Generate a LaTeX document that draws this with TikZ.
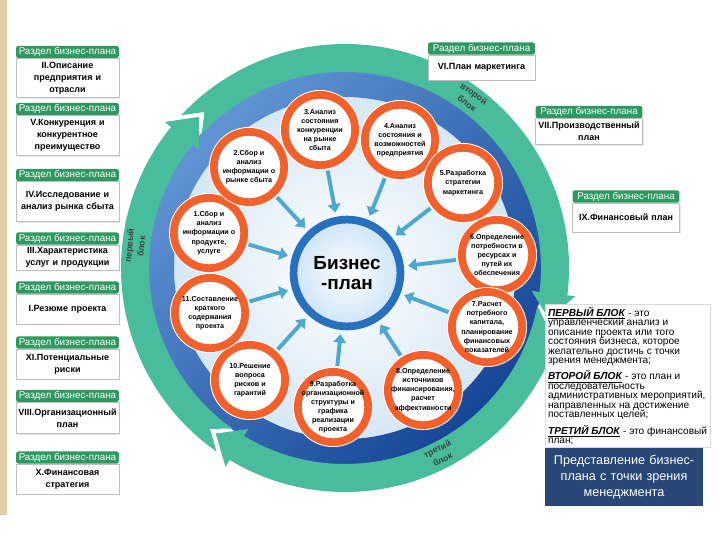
\documentclass[tikz,border=0pt]{standalone}
\usepackage{fontspec}
\setmainfont{Liberation Sans}
\usetikzlibrary{positioning,arrows.meta,shadows}

\definecolor{ringteal}{RGB}{74,188,158}
\definecolor{bandlight}{RGB}{96,148,212}
\definecolor{banddark}{RGB}{22,70,150}
\definecolor{stageorange}{RGB}{242,96,44}
\definecolor{hdrgreen}{RGB}{46,152,96}
\definecolor{inblue}{RGB}{78,168,205}
\definecolor{planblue}{RGB}{38,112,190}
\definecolor{navyband}{RGB}{40,70,118}
\definecolor{slidetan}{RGB}{224,204,166}

\tikzset{
  stage/.style={circle, draw=white, line width=0.7pt, double=stageorange, double distance=5.5pt,
    fill=white, minimum size=50pt, inner sep=0pt},
  stagetxt/.style={font=\fontsize{5.1}{6.5}\selectfont\bfseries, align=center, inner sep=0pt},
  plan/.style={circle, draw=planblue, line width=5.5pt, inner color=white,
    outer color={rgb,255:red,205;green,228;blue,246}, minimum size=76pt, align=center,
    font=\fontsize{13.5}{14.5}\selectfont\bfseries},
  hdr/.style={fill=hdrgreen, text=white, minimum width=73pt, minimum height=8.6pt, inner sep=0pt,
    rounded corners=1.5pt, font=\fontsize{7}{7}\selectfont},
  sect/.style={draw=black!25, fill=white, text width=70pt, minimum width=73pt, inner sep=1.5pt,
    align=center, font=\fontsize{6.4}{8.4}\selectfont\bfseries,
    drop shadow={opacity=0.2, shadow xshift=1pt, shadow yshift=-1pt}},
  toplan/.style={draw=inblue, line width=2.8pt, -{Triangle[length=6pt,width=9pt]},
    shorten <=4pt, shorten >=3pt},
  blocktxt/.style={font=\fontsize{6.2}{8.5}\selectfont\bfseries, align=center, text=black!75, inner sep=0pt},
  infobox/.style={draw=black!15, fill=white, minimum width=112pt,
    minimum height=100pt, inner sep=2pt, align=left,
    font={\fontsize{7.2}{6.7}\selectfont\lineskiplimit=-5pt}},
  banner/.style={fill=navyband, text=white, text width=108pt, minimum width=112pt,
    minimum height=41pt, inner sep=2pt, align=center, font=\fontsize{9}{11.3}\selectfont}
}

% teal band from angle #1 clockwise to the tip at angle #2
\newcommand{\blockarrow}[2]{%
  \fill[ringteal] (#1:196) arc[start angle=#1, end angle=#2+7, radius=196]
    -- (#2+7:188) -- (#2:210) -- (#2+7:232) -- (#2+7:224)
    arc[start angle=#2+7, end angle=#1, radius=224] -- (#1-5:210) -- cycle;}

\begin{document}
\begin{tikzpicture}[x=0.025cm, y=-0.025cm]
    \useasboundingbox (0,0) rectangle (720,540);
    \fill[slidetan] (0,0) rectangle (7,515);

    %ring
    \begin{scope}[shift={(345,268)}, y=0.025cm]
      \shade[inner color=white, outer color={rgb,255:red,214;green,231;blue,245}] (0,0) circle[radius=172];
      \shade[even odd rule, top color=bandlight, bottom color=banddark, shading angle=45]
        (0,0) circle[radius=197] (0,0) circle[radius=171];
      \blockarrow{235}{134}
      \blockarrow{137}{-14}
      \blockarrow{-11}{-128}
      \node[blocktxt, rotate=85] (blk1) at (174:211) {первый\\блок};
      \node[blocktxt, rotate=-36] (blk2) at (53.5:211) {второй\\блок};
      \node[blocktxt, rotate=26] (blk3) at (-63:209) {третий\\блок};
    \end{scope}

    %stages
    \node[stage, label={[stagetxt]center:{1.Сбор и\\анализ\\информации о\\продукте,\\услуге}}] (s1) at (209,233) {};
    \node[stage, label={[stagetxt]center:{2.Сбор и\\анализ\\информации о\\рынке сбыта}}] (s2) at (249,167) {};
    \node[stage, label={[stagetxt]center:{3.Анализ\\состояния\\конкуренции\\на рынке\\сбыта}}] (s3) at (320,130) {};
    \node[stage, label={[stagetxt]center:{4.Анализ\\состояния и\\возможностей\\предприятия}}] (s4) at (400,140) {};
    \node[stage, label={[stagetxt]center:{5.Разработка\\стратегии\\маркетинга}}] (s5) at (463,183) {};
    \node[stage, label={[stagetxt]center:{6.Определение\\потребности в\\ресурсах и\\путей их\\обеспечения}}] (s6) at (497,255) {};
    \node[stage, label={[stagetxt]center:{7.Расчет\\потребного\\капитала,\\планирование\\финансовых\\показателей}}] (s7) at (487,327) {};
    \node[stage, label={[stagetxt]center:{8.Определение\\источников\\финансирования,\\расчет\\эффективности}}] (s8) at (423,390) {};
    \node[stage, label={[stagetxt]center:{9.Разработка\\организационной\\структуры и\\графика\\реализации\\проекта}}] (s9) at (333,407) {};
    \node[stage, label={[stagetxt]center:{10.Решение\\вопроса\\рисков и\\гарантий}}] (s10) at (250,380) {};
    \node[stage, label={[stagetxt]center:{11.Составление\\краткого\\содержания\\проекта}}] (s11) at (210,313) {};

    \node[plan] (plan) at (347,273) {Бизнес\\-план};

    %arrows
    \foreach \i in {1,...,11}
      \draw[toplan] (s\i) -- (plan);

    %sections, left
    \node[hdr] (h2) at (67.5,52) {Раздел бизнес-плана};
    \node[sect, below=0pt of h2, minimum height=27.6pt] (b2) {II.Описание\\предприятия и\\отрасли};
    \node[hdr] (h5) at (67.5,109) {Раздел бизнес-плана};
    \node[sect, below=0pt of h5, minimum height=28.3pt] (b5) {V.Конкуренция и\\конкурентное\\преимущество};
    \node[hdr] (h4) at (67.5,175) {Раздел бизнес-плана};
    \node[sect, below=0pt of h4, minimum height=28.3pt] (b4) {IV.Исследование и\\анализ рынка сбыта};
    \node[hdr] (h3) at (67.5,238.5) {Раздел бизнес-плана};
    \node[sect, below=0pt of h3, minimum height=17.7pt] (b3) {III.Характеристика\\услуг и продукции};
    \node[hdr] (h1) at (67.5,287.5) {Раздел бизнес-плана};
    \node[sect, below=0pt of h1, minimum height=21.3pt] (b1) {I.Резюме проекта};
    \node[hdr] (h11) at (67.5,342.5) {Раздел бизнес-плана};
    \node[sect, below=0pt of h11, minimum height=21.3pt] (b11) {XI.Потенциальные\\риски};
    \node[hdr] (h8) at (67.5,396) {Раздел бизнес-плана};
    \node[sect, below=0pt of h8, minimum height=22pt] (b8) {VIII.Организационный\\план};
    \node[hdr] (h10) at (67.5,457.5) {Раздел бизнес-плана};
    \node[sect, below=0pt of h10, minimum height=21.3pt] (b10) {X.Финансовая\\стратегия};

    %sections, right
    \node[hdr, minimum width=76pt] (h6) at (481.5,48.5) {Раздел бизнес-плана};
    \node[sect, below=0pt of h6, text width=73pt, minimum width=76pt, minimum height=17.7pt] (b6) {VI.План маркетинга};
    \node[hdr, minimum width=76pt] (h7) at (589,112) {Раздел бизнес-плана};
    \node[sect, below=0pt of h7, text width=73pt, minimum width=76pt, minimum height=18.4pt] (b7) {VII.Производственный\\план};
    \node[hdr, minimum width=76pt] (h9) at (626,196.5) {Раздел бизнес-плана};
    \node[sect, below=0pt of h9, text width=73pt, minimum width=76pt, minimum height=20.5pt] (b9) {IX.Финансовый план};

    %blocks
    \node[infobox, anchor=north west] (info) at (545,304) {%
      \underline{\textbf{\textit{ПЕРВЫЙ БЛОК}}} - это\\
      управленческий анализ и\\
      описание проекта или того\\
      состояния бизнеса, которое\\
      желательно достичь с точки\\
      зрения менеджмента;\\[5pt]
      \underline{\textbf{\textit{ВТОРОЙ БЛОК}}} - это план и\\
      последовательность\\
      административных мероприятий,\\
      направленных на достижение\\
      поставленных целей;\\[5pt]
      \underline{\textbf{\textit{ТРЕТИЙ БЛОК}}} - это финансовый\\
      план;};
    \node[banner, anchor=north west] (note) at (info.south west) {Представление бизнес-\\плана с точки зрения\\менеджмента};
\end{tikzpicture}
\end{document}
